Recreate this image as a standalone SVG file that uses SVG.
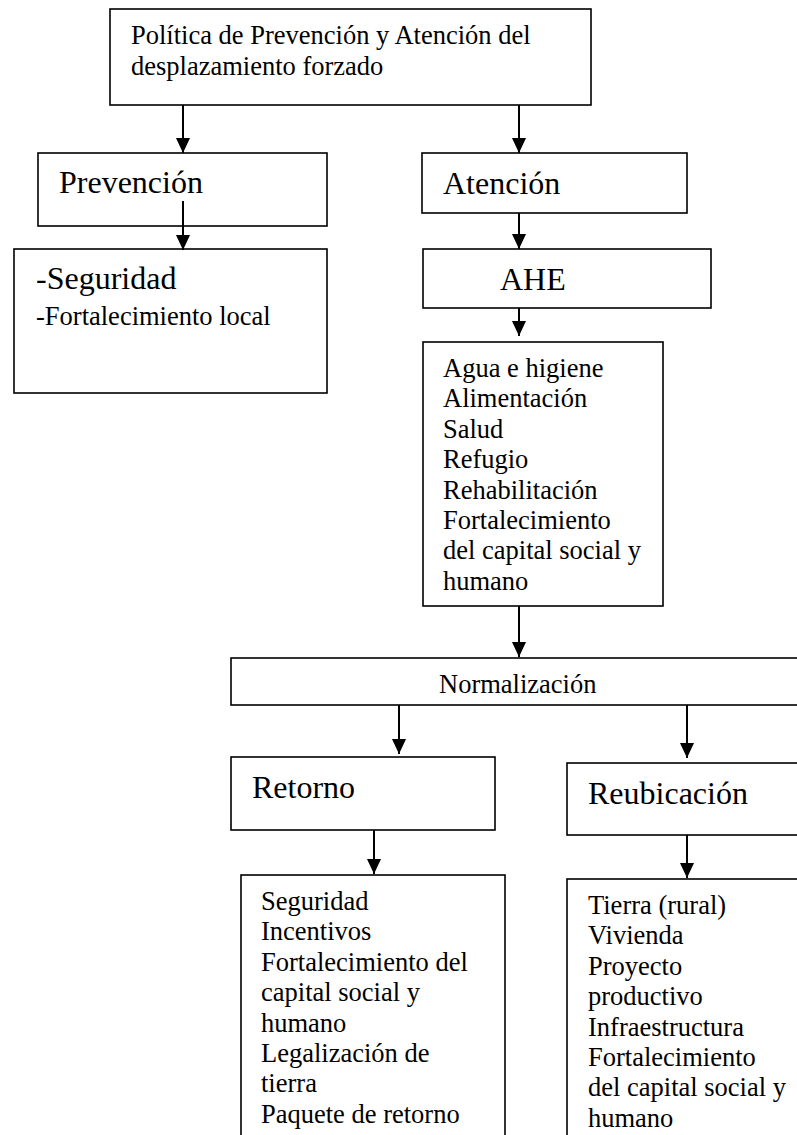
<svg xmlns="http://www.w3.org/2000/svg" width="797" height="1135" viewBox="0 0 797 1135">
<defs>
<marker id="ah" markerWidth="15" markerHeight="14" refX="15" refY="7" orient="auto" markerUnits="userSpaceOnUse" viewBox="0 0 15 14">
<path d="M0,0 L15,7 L0,14 Z" fill="#000"/>
</marker>
<style>
.box{fill:#fff;stroke:#000;stroke-width:1.6}
.t{font-family:"Liberation Serif","Times New Roman",serif;fill:#000;font-size:26.5px}
.big{font-size:32px}
.c line{stroke:#000;stroke-width:2}
</style>
</defs>
<rect width="797" height="1135" fill="#fff"/>

<g id="n-politica">
<rect class="box" x="110" y="9" width="481" height="96"/>
<text class="t" x="131" y="44">Política de Prevención y Atención del</text>
<text class="t" x="131" y="75">desplazamiento forzado</text>
</g>

<g id="n-prevencion">
<rect class="box" x="38" y="153" width="289" height="73"/>
<text class="t big" x="59" y="193">Prevención</text>
</g>

<g id="n-atencion">
<rect class="box" x="422" y="153" width="265" height="60"/>
<text class="t big" x="443" y="194">Atención</text>
</g>

<g id="n-seguridad">
<rect class="box" x="14" y="249" width="313" height="144"/>
<text class="t big" x="36" y="289">-Seguridad</text>
<text class="t" x="36" y="325">-Fortalecimiento local</text>
</g>

<g id="n-ahe">
<rect class="box" x="423" y="249" width="288" height="59"/>
<text class="t big" x="500" y="290">AHE</text>
</g>

<g id="n-ahe-list">
<rect class="box" x="423" y="342" width="240" height="264"/>
<text class="t" x="443" y="377">Agua e higiene</text>
<text class="t" x="443" y="407.4">Alimentación</text>
<text class="t" x="443" y="437.8">Salud</text>
<text class="t" x="443" y="468.2">Refugio</text>
<text class="t" x="443" y="498.6">Rehabilitación</text>
<text class="t" x="443" y="529">Fortalecimiento</text>
<text class="t" x="443" y="559.4">del capital social y</text>
<text class="t" x="443" y="589.8">humano</text>
</g>

<g id="n-normalizacion">
<rect class="box" x="231" y="658" width="580" height="47"/>
<text class="t" x="439" y="693">Normalización</text>
</g>

<g id="n-retorno">
<rect class="box" x="231" y="757" width="264" height="73"/>
<text class="t big" x="252" y="798">Retorno</text>
</g>

<g id="n-reubicacion">
<rect class="box" x="567" y="763" width="244" height="72"/>
<text class="t big" x="588" y="804">Reubicación</text>
</g>

<g id="n-retorno-list">
<rect class="box" x="241" y="875" width="264" height="280"/>
<text class="t" x="261" y="910">Seguridad</text>
<text class="t" x="261" y="940.4">Incentivos</text>
<text class="t" x="261" y="970.8">Fortalecimiento del</text>
<text class="t" x="261" y="1001.2">capital social y</text>
<text class="t" x="261" y="1031.6">humano</text>
<text class="t" x="261" y="1062">Legalización de</text>
<text class="t" x="261" y="1092.4">tierra</text>
<text class="t" x="261" y="1122.8">Paquete de retorno</text>
</g>

<g id="n-reubicacion-list">
<rect class="box" x="567" y="879" width="244" height="280"/>
<text class="t" x="588" y="914">Tierra (rural)</text>
<text class="t" x="588" y="944.4">Vivienda</text>
<text class="t" x="588" y="974.8">Proyecto</text>
<text class="t" x="588" y="1005.2">productivo</text>
<text class="t" x="588" y="1035.6">Infraestructura</text>
<text class="t" x="588" y="1066">Fortalecimiento</text>
<text class="t" x="588" y="1096.4">del capital social y</text>
<text class="t" x="588" y="1126.8">humano</text>
</g>

<g id="connectors" class="c">
<line x1="183" y1="105" x2="183" y2="153" marker-end="url(#ah)"/>
<line x1="519" y1="105" x2="519" y2="153" marker-end="url(#ah)"/>
<line x1="183" y1="201" x2="183" y2="250" marker-end="url(#ah)"/>
<line x1="519" y1="213" x2="519" y2="249" marker-end="url(#ah)"/>
<line x1="519" y1="308" x2="519" y2="336" marker-end="url(#ah)"/>
<line x1="519" y1="606" x2="519" y2="657" marker-end="url(#ah)"/>
<line x1="399" y1="705" x2="399" y2="754" marker-end="url(#ah)"/>
<line x1="687" y1="705" x2="687" y2="758" marker-end="url(#ah)"/>
<line x1="374" y1="830" x2="374" y2="874" marker-end="url(#ah)"/>
<line x1="687" y1="835" x2="687" y2="878" marker-end="url(#ah)"/>
</g>
</svg>
